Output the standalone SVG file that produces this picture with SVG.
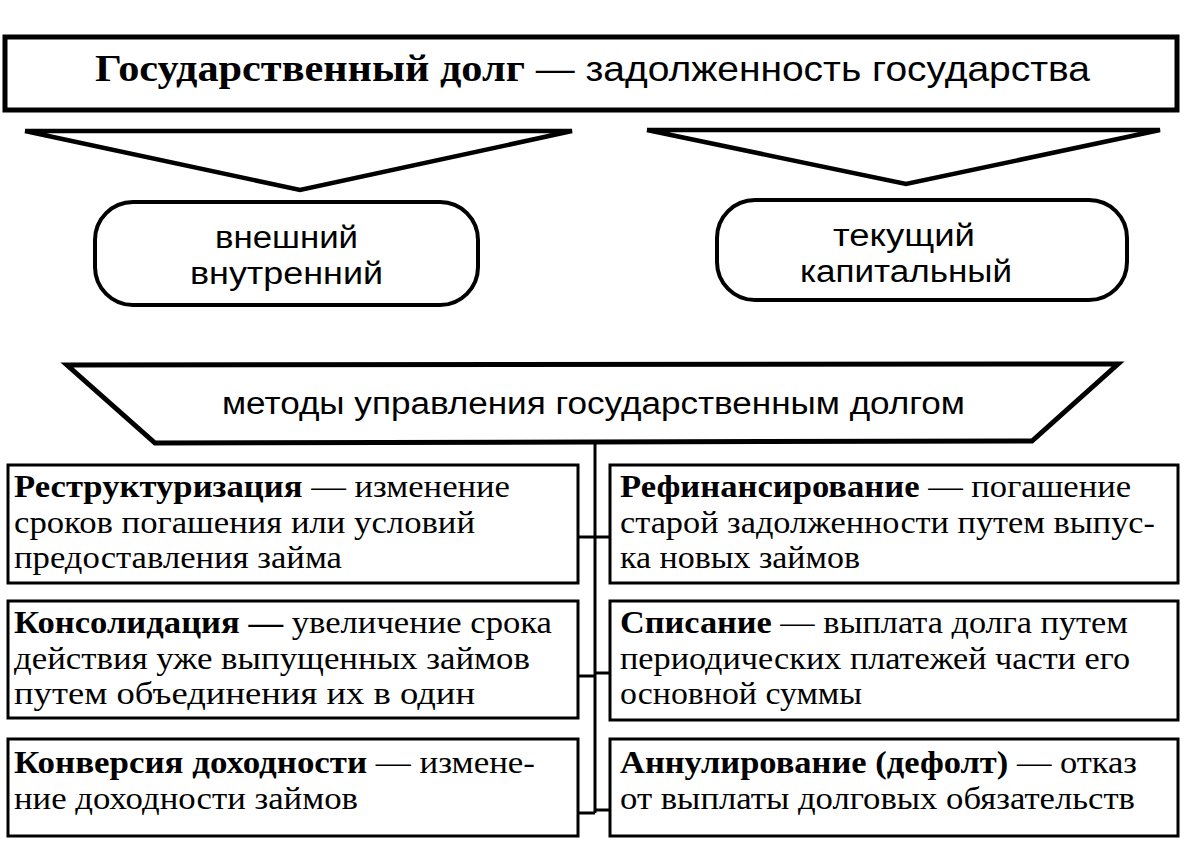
<svg xmlns="http://www.w3.org/2000/svg" width="1186" height="842" viewBox="0 0 1186 842">
<style>
.bg{fill:#fff}
.thick{fill:#fff;stroke:#000;stroke-width:5;stroke-linejoin:miter}
.tri{fill:none;stroke:#000;stroke-width:4.5;stroke-linejoin:miter}
.oval{fill:#fff;stroke:#000;stroke-width:4}
.box{fill:#fff;stroke:#000;stroke-width:3}
.conn{fill:none;stroke:#000;stroke-width:3}
.sans{font-family:"Liberation Sans",Arial,sans-serif;fill:#000}
.serif{font-family:"Liberation Serif","Times New Roman",serif;fill:#000}
.bt{font-size:31px}
</style>
<rect class="bg" width="1186" height="842"/>

<g id="title">
  <rect class="thick" x="5" y="37" width="1172" height="73"/>
  <text x="95" y="81" font-size="38" textLength="995" lengthAdjust="spacingAndGlyphs"><tspan class="serif" font-weight="bold">Государственный долг</tspan><tspan class="sans" font-size="35"> — задолженность государства</tspan></text>
</g>

<g id="connectors">
  <polyline class="tri" points="25,131 572,131 300,190 25,131"/>
  <polyline class="tri" points="647,130 1160,130 906,184 647,130"/>
  <line class="conn" x1="595" y1="443" x2="595" y2="813"/>
  <line class="conn" x1="578" y1="537" x2="610" y2="537"/>
  <line class="conn" x1="578" y1="676" x2="595" y2="676"/>
  <line class="conn" x1="578" y1="813" x2="595" y2="813"/>
  <line class="conn" x1="595" y1="673" x2="610" y2="673"/>
  <line class="conn" x1="595" y1="810" x2="610" y2="810"/>
</g>

<g id="node-vid1">
  <rect class="oval" x="95" y="202" width="383" height="103" rx="38" ry="38"/>
  <text class="sans" x="215" y="248" font-size="31" textLength="143" lengthAdjust="spacingAndGlyphs">внешний</text>
  <text class="sans" x="190" y="284" font-size="31" textLength="193" lengthAdjust="spacingAndGlyphs">внутренний</text>
</g>

<g id="node-vid2">
  <rect class="oval" x="717" y="200" width="410" height="100" rx="38" ry="38"/>
  <text class="sans" x="833" y="246" font-size="31" textLength="142" lengthAdjust="spacingAndGlyphs">текущий</text>
  <text class="sans" x="800" y="282" font-size="31" textLength="212" lengthAdjust="spacingAndGlyphs">капитальный</text>
</g>

<g id="node-methods">
  <polygon class="thick" points="67,365 1118,364 1032,441 155,443"/>
  <text class="sans" x="222" y="414" font-size="31" textLength="743" lengthAdjust="spacingAndGlyphs">методы управления государственным долгом</text>
</g>

<g id="node-restr">
  <rect class="box" x="8" y="465" width="570" height="118"/>
  <text class="serif bt" x="14" y="497" textLength="496" lengthAdjust="spacingAndGlyphs"><tspan font-weight="bold">Реструктуризация</tspan> — изменение</text>
  <text class="serif bt" x="14" y="533" textLength="461" lengthAdjust="spacingAndGlyphs">сроков погашения или условий</text>
  <text class="serif bt" x="14" y="568" textLength="328" lengthAdjust="spacingAndGlyphs">предоставления займа</text>
</g>

<g id="node-consol">
  <rect class="box" x="8" y="601" width="570" height="117"/>
  <text class="serif bt" x="14" y="633" textLength="538" lengthAdjust="spacingAndGlyphs"><tspan font-weight="bold">Консолидация —</tspan> увеличение срока</text>
  <text class="serif bt" x="14" y="669" textLength="516" lengthAdjust="spacingAndGlyphs">действия уже выпущенных займов</text>
  <text class="serif bt" x="14" y="704" textLength="461" lengthAdjust="spacingAndGlyphs">путем объединения их в один</text>
</g>

<g id="node-conv">
  <rect class="box" x="8" y="739" width="570" height="97"/>
  <text class="serif bt" x="14" y="773" textLength="521" lengthAdjust="spacingAndGlyphs"><tspan font-weight="bold">Конверсия доходности</tspan> — измене-</text>
  <text class="serif bt" x="14" y="809" textLength="344" lengthAdjust="spacingAndGlyphs">ние доходности займов</text>
</g>

<g id="node-refin">
  <rect class="box" x="610" y="465" width="568" height="118"/>
  <text class="serif bt" x="620" y="497" textLength="511" lengthAdjust="spacingAndGlyphs"><tspan font-weight="bold">Рефинансирование</tspan> — погашение</text>
  <text class="serif bt" x="620" y="533" textLength="535" lengthAdjust="spacingAndGlyphs">старой задолженности путем выпус-</text>
  <text class="serif bt" x="620" y="568" textLength="240" lengthAdjust="spacingAndGlyphs">ка новых займов</text>
</g>

<g id="node-spis">
  <rect class="box" x="610" y="601" width="568" height="119"/>
  <text class="serif bt" x="620" y="633" textLength="508" lengthAdjust="spacingAndGlyphs"><tspan font-weight="bold">Списание</tspan> — выплата долга путем</text>
  <text class="serif bt" x="620" y="669" textLength="510" lengthAdjust="spacingAndGlyphs">периодических платежей части его</text>
  <text class="serif bt" x="620" y="704" textLength="242" lengthAdjust="spacingAndGlyphs">основной суммы</text>
</g>

<g id="node-annul">
  <rect class="box" x="610" y="739" width="568" height="97"/>
  <text class="serif bt" x="620" y="773" textLength="517" lengthAdjust="spacingAndGlyphs"><tspan font-weight="bold">Аннулирование (дефолт)</tspan> — отказ</text>
  <text class="serif bt" x="620" y="809" textLength="515" lengthAdjust="spacingAndGlyphs">от выплаты долговых обязательств</text>
</g>
</svg>
